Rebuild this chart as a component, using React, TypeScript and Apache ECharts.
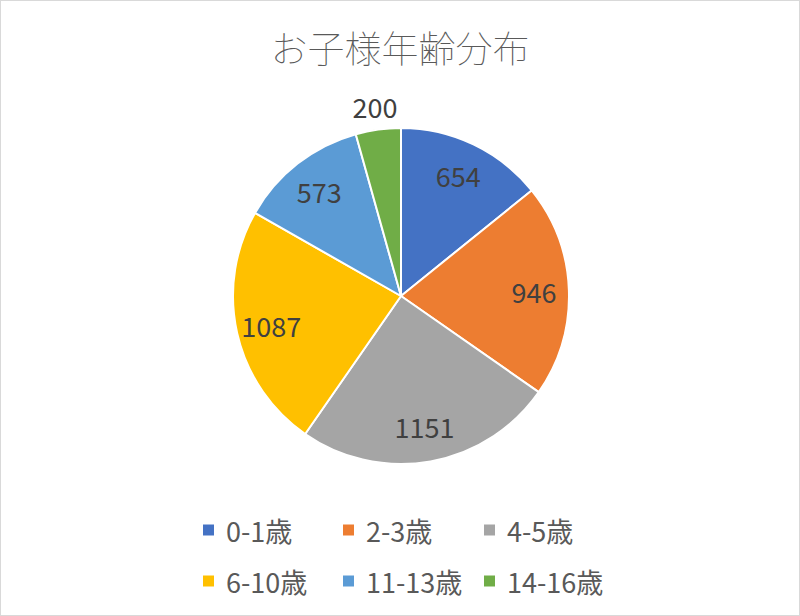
import { useEffect, useRef } from "react";
import * as echarts from "echarts";

const categories = ["0-1歳", "2-3歳", "4-5歳", "6-10歳", "11-13歳", "14-16歳"];
const counts = [654, 946, 1151, 1087, 573, 200];
const colors = ["#4472C4", "#ED7D31", "#A5A5A5", "#FFC000", "#5B9BD5", "#70AD47"];
const title = "お子様年齢分布";

// 凡例は3列×2行
const legendColumns = [
  [categories[0], categories[3]],
  [categories[1], categories[4]],
  [categories[2], categories[5]],
];
const legendLefts = [200, 340, 481];

const FONT = "'Noto Sans CJK JP', 'Noto Sans', sans-serif";

const App = () => {
  const chartRef = useRef(null);

  useEffect(() => {
    const chart = echarts.init(chartRef.current, null, { renderer: "svg" });

    const labelStyle = {
      show: true,
      position: "inside",
      formatter: "{c}",
      fontFamily: FONT,
      fontSize: 27,
      color: "#404040",
    };

    const option: any = {
      animation: false,
      color: colors,
      title: {
        text: title,
        left: "center",
        top: 22,
        textStyle: {
          fontFamily: FONT,
          fontSize: 37,
          fontWeight: "lighter",
          color: "#595959",
        },
      },
      legend: legendColumns.map((col, i) => ({
        data: col,
        orient: "vertical",
        left: legendLefts[i],
        top: 514,
        padding: 0,
        itemGap: 21,
        itemWidth: 13,
        itemHeight: 13,
        icon: "rect",
        selectedMode: false,
        textStyle: {
          fontFamily: FONT,
          fontSize: 27,
          lineHeight: 30,
          color: "#595959",
          padding: [0, 0, 0, 6],
        },
      })),
      series: [
        {
          name: "pie",
          type: "pie",
          center: [400, 295],
          radius: [0, 168],
          startAngle: 90,
          clockwise: true,
          silent: true,
          itemStyle: { borderColor: "#ffffff", borderWidth: 2 },
          label: { show: false },
          labelLine: { show: false },
          data: categories.map((name, i) => ({ name, value: counts[i] })),
        },
        {
          // 内側ラベル
          type: "pie",
          center: [400, 295],
          radius: [108, 152],
          startAngle: 90,
          silent: true,
          itemStyle: { color: "transparent" },
          labelLine: { show: false },
          label: labelStyle,
          data: counts.map((v) => ({
            value: v,
            label: { show: v !== 200 },
          })),
        },
        {
          // 小さい扇形のラベルは外側
          type: "pie",
          center: [400, 295],
          radius: [178, 198],
          startAngle: 90,
          silent: true,
          itemStyle: { color: "transparent" },
          labelLine: { show: false },
          label: labelStyle,
          data: counts.map((v) => ({
            value: v,
            label: { show: v === 200 },
          })),
        },
      ],
    };

    chart.setOption(option);

    return () => {
      chart.dispose();
    };
  }, []);

  return (
    <div
      ref={chartRef}
      style={{
        position: "fixed",
        left: 0,
        top: 0,
        width: 800,
        height: 616,
        border: "1px solid #d9d9d9",
        boxSizing: "border-box",
        background: "#ffffff",
      }}
    />
  );
};

export default App;
